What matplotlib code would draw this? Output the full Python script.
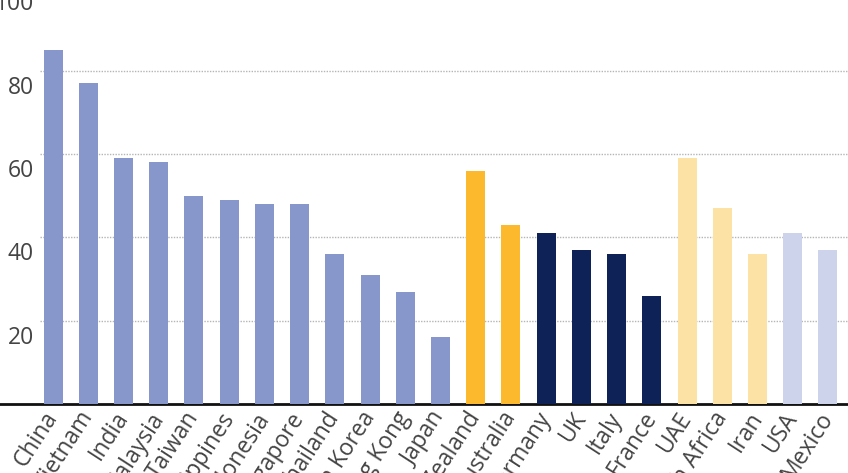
import matplotlib
matplotlib.use("Agg")
import matplotlib.pyplot as plt
import matplotlib.transforms as mtransforms

plt.rcParams['font.family'] = ['Open Sans', 'DejaVu Sans']

# data
countries = ["China", "Vietnam", "India", "Malaysia", "Taiwan", "Philippines",
             "Indonesia", "Singapore", "Thailand", "South Korea", "Hong Kong",
             "Japan", "New Zealand", "Australia", "Germany", "UK", "Italy",
             "France", "UAE", "South Africa", "Iran", "USA", "Mexico"]
values = [85, 77, 59, 58, 50, 49, 48, 48, 36, 31, 27, 16,
          56, 43, 41, 37, 36, 26, 59, 47, 36, 41, 37]
regions = ["asia"] * 12 + ["oceania"] * 2 + ["europe"] * 4 + ["mea"] * 3 + ["americas"] * 2
yticks = [20, 40, 60, 80, 100]

region_colors = {
    "asia": "#8797cc",
    "oceania": "#fdb92e",
    "europe": "#0e2258",
    "mea": "#fde2a5",
    "americas": "#ced3ec",
}

fig = plt.figure(figsize=(8.48, 4.73), dpi=100)
# axes spans the full width; the top runs a bit past the figure edge
ax = fig.add_axes([0, 69 / 473, 1, 416.5 / 473])

x = list(range(len(countries)))
colors = [region_colors[r] for r in regions]
ax.bar(x, values, width=0.54, color=colors, zorder=3)

x_left, x_right = -0.37, 22.57
ax.set_xlim(x_left - 40 / 35.2, x_right)
ax.set_ylim(0, 100)

# dotted grid starting at the plot area
ax.hlines(yticks, x_left, x_right, colors="#b5b5b5", linestyles=(0, (1, 1)),
          linewidth=1, zorder=1)

# y labels sit just under their grid lines
off = mtransforms.ScaledTranslation(0, -17 / 100, fig.dpi_scale_trans)
for t in yticks:
    ax.text(x_left - 0.18, t, str(t), ha="right", va="center", fontsize=16.5,
            color="#444444", transform=ax.transData + off)

for s in ["top", "left", "right"]:
    ax.spines[s].set_visible(False)
ax.spines["bottom"].set_linewidth(2)
ax.spines["bottom"].set_color("#111111")
ax.set_yticks([])

ax.set_xticks(x)
ax.set_xticklabels(countries, rotation=57, ha="right", va="center",
                   rotation_mode="anchor", fontsize=16.5, color="#444444")
ax.tick_params(axis="x", length=0, pad=7)

fig.savefig("out.png", dpi=100)
